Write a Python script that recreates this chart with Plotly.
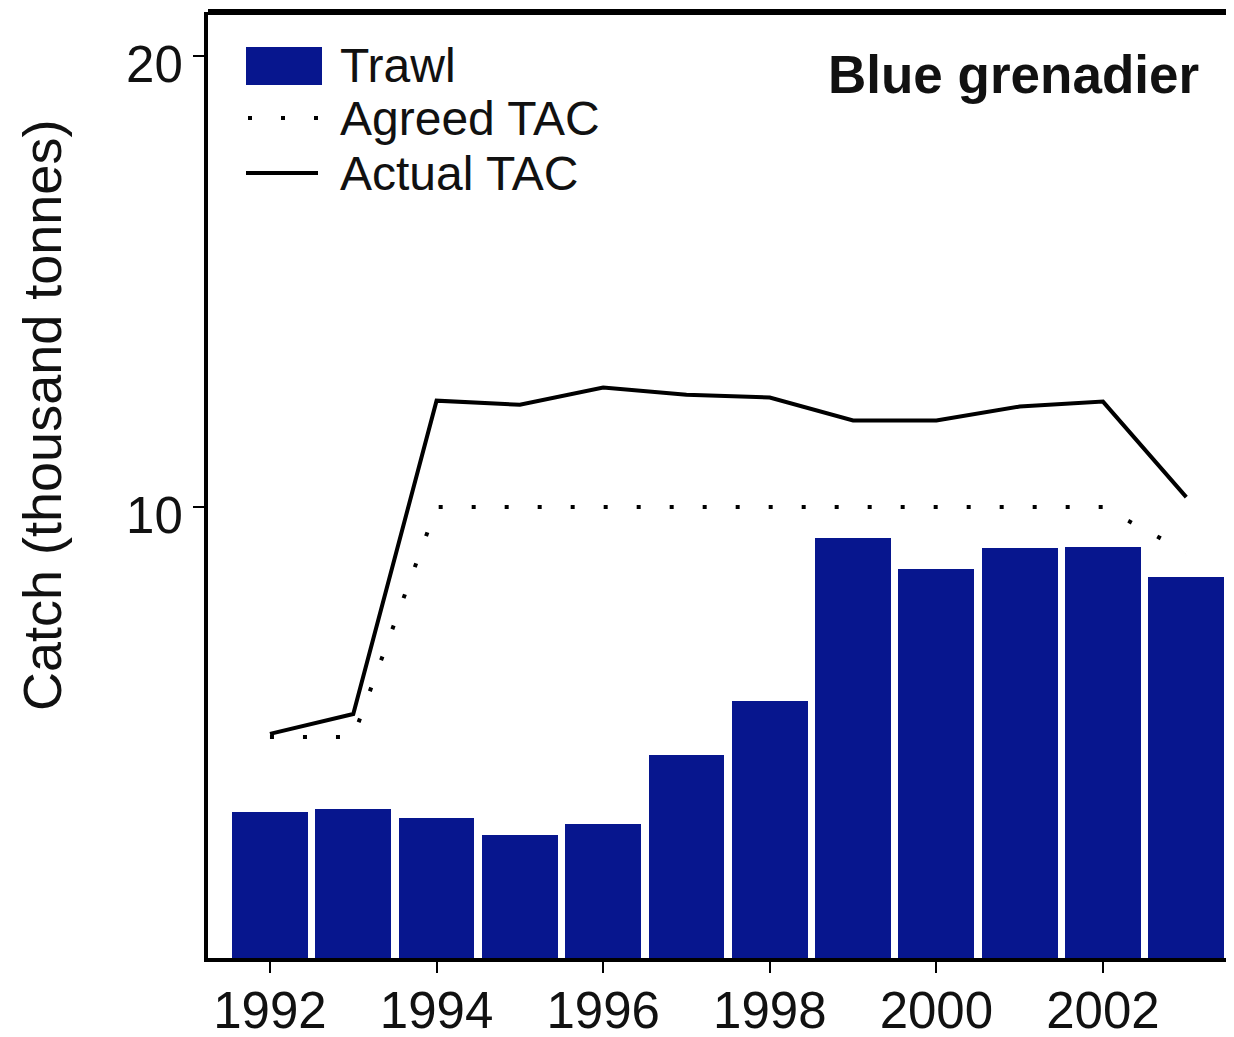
import plotly.graph_objects as go

# ---- data ----
years = [1992, 1993, 1994, 1995, 1996, 1997, 1998, 1999, 2000, 2001, 2002, 2003]
trawl_catch = [3.23, 3.30, 3.10, 2.72, 2.98, 4.50, 5.70, 9.31, 8.62, 9.09, 9.11, 8.46]
agreed_tac = [4.9, 4.9, 10.0, 10.0, 10.0, 10.0, 10.0, 10.0, 10.0, 10.0, 10.0, 9.0]
actual_tac = [4.97, 5.41, 12.36, 12.27, 12.65, 12.49, 12.43, 11.92, 11.92, 12.23, 12.34, 10.22]
x_tick_vals = [1992, 1994, 1996, 1998, 2000, 2002]
y_tick_vals = [10, 20]

BAR_COLOR = "#07168e"
FONT = "Liberation Sans, Arial, Helvetica, sans-serif"

OFF = 8  # browser body margin
W_IMG, H_IMG = 1234 - OFF, 1037 - OFF
L, T, R_EDGE, B_EDGE = 208 - OFF, 12 - OFF, 1234 - OFF, 958 - OFF
PW, PH = R_EDGE - L, B_EDGE - T


def px(xp):
    # xp given in reference page pixels
    return (xp - OFF - L) / PW


def py(yp):
    return (B_EDGE - (yp - OFF)) / PH


fig = go.Figure()
fig.add_trace(go.Bar(x=years, y=trawl_catch, width=0.91, marker=dict(color=BAR_COLOR, line=dict(width=0)),
                     name="Trawl", showlegend=False))
fig.add_trace(go.Scatter(x=years, y=agreed_tac, mode="lines", name="Agreed TAC",
                         line=dict(color="black", width=4, dash="4px,29px"), showlegend=False))
fig.add_trace(go.Scatter(x=years, y=actual_tac, mode="lines", name="Actual TAC",
                         line=dict(color="black", width=4), showlegend=False))

shapes = [
    # top border
    dict(type="line", xref="paper", yref="paper", x0=0, x1=1, y0=1, y1=1,
         line=dict(color="black", width=6)),
    # legend symbols
    dict(type="rect", xref="paper", yref="paper", x0=px(246), x1=px(322), y0=py(85), y1=py(47),
         fillcolor=BAR_COLOR, line=dict(width=0)),
    dict(type="line", xref="paper", yref="paper", x0=px(248), x1=px(320), y0=py(118), y1=py(118),
         line=dict(color="black", width=4, dash="4px,29px")),
    dict(type="line", xref="paper", yref="paper", x0=px(246), x1=px(318), y0=py(173), y1=py(173),
         line=dict(color="black", width=4)),
]

annotations = [
    dict(text="Trawl", xref="paper", yref="paper", x=px(338), y=py(66), xanchor="left", yanchor="middle",
         showarrow=False, font=dict(size=48, color="#111", family=FONT)),
    dict(text="Agreed TAC", xref="paper", yref="paper", x=px(338), y=py(119), xanchor="left", yanchor="middle",
         showarrow=False, font=dict(size=48, color="#111", family=FONT)),
    dict(text="Actual TAC", xref="paper", yref="paper", x=px(338), y=py(173), xanchor="left", yanchor="middle",
         showarrow=False, font=dict(size=48, color="#111", family=FONT)),
    dict(text="<b>Blue grenadier</b>", xref="paper", yref="paper", x=px(1201), y=py(75), xanchor="right",
         yanchor="middle", showarrow=False, font=dict(size=53, color="#111", family=FONT)),
    dict(text="Catch (thousand tonnes)", xref="paper", yref="paper", x=px(42), y=py(416), xanchor="center",
         yanchor="middle", textangle=-90, showarrow=False, font=dict(size=54, color="#111", family=FONT)),
]

fig.update_layout(
    width=W_IMG, height=H_IMG,
    margin=dict(l=L, r=W_IMG - R_EDGE, t=T, b=H_IMG - B_EDGE, pad=0, autoexpand=False),
    paper_bgcolor="white", plot_bgcolor="white",
    font=dict(family=FONT, color="#111"),
    shapes=shapes, annotations=annotations,
    bargap=0,
    xaxis=dict(range=[1991.256, 2003.573], tickvals=x_tick_vals, ticks="outside", ticklen=11, tickwidth=2,
               tickcolor="black", showline=True, linecolor="black", linewidth=4, showgrid=False,
               zeroline=False, automargin=False, ticklabelstandoff=-6,
               tickfont=dict(size=51, color="#111", family=FONT)),
    yaxis=dict(range=[0, 20.98], tickvals=y_tick_vals, ticks="outside", ticklen=11, tickwidth=2,
               tickcolor="black", showline=True, linecolor="black", linewidth=4, showgrid=False,
               zeroline=False, automargin=False, ticklabelshift=8,
               tickfont=dict(size=51, color="#111", family=FONT)),
)

fig.write_html("out.html")
